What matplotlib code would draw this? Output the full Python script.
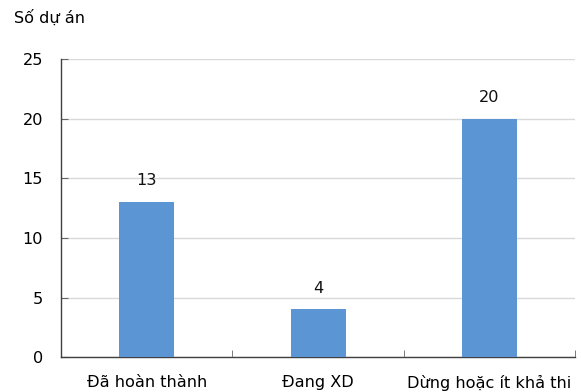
import numpy as np
import matplotlib.pyplot as plt

categories = ["Đã hoàn thành", "Đang XD", "Dừng hoặc ít khả thi"]
counts = [13, 4, 20]
yticks = [0, 5, 10, 15, 20, 25]

plt.rcParams['font.family'] = ['DejaVu Sans']
fs = 11.6
fig = plt.figure(figsize=(5.81, 3.92), dpi=100)
ax = fig.add_axes([0.105, 0.089, 0.885, 0.760])

x = np.arange(len(categories))
bars = ax.bar(x, counts, width=0.32, color='#5B95D3', zorder=3)

for xi, v in zip(x, counts):
    ax.annotate(str(v), (xi, v), xytext=(0, 10), textcoords='offset points',
                ha='center', va='bottom', fontsize=fs, color='#111111')

ax.set_xlim(-0.5, len(categories) - 0.5)
ax.set_ylim(0, 25)
ax.set_yticks(yticks)
ax.yaxis.grid(True, color='#d9d9d9', lw=1, zorder=0)
ax.set_xticks(x)
ax.set_xticklabels(categories, fontsize=fs)
# separators between categories, plus one at the right end
ax.set_xticks(np.arange(len(categories)) + 0.5, minor=True)
ax.tick_params(axis='x', which='major', length=0, pad=13)
ax.tick_params(axis='x', which='minor', direction='in', length=5, color='#666666')
ax.tick_params(axis='y', direction='in', length=5, color='#666666', labelsize=fs, pad=13)

for s in ['top', 'right']:
    ax.spines[s].set_visible(False)
for s in ['left', 'bottom']:
    ax.spines[s].set_color('#404040')
    ax.spines[s].set_linewidth(1)

fig.text(0.024, 0.955, "Số dự án", fontsize=fs, va='center', ha='left')

fig.savefig("out.png", dpi=100)
